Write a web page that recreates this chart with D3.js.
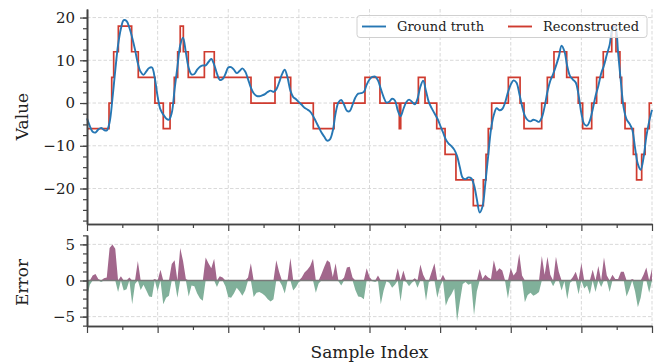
<!DOCTYPE html>
<html>
<head>
<meta charset="utf-8">
<script src="https://cdn.jsdelivr.net/npm/d3@7"></script>
<style>
  body { margin: 0; background: #fff; }
  svg text { font-family: "DejaVu Serif", serif; fill: #222; }
</style>
</head>
<body>
<div class="wrapper"></div>
<script>
// ground truth, read every 2 samples (0..400)
var truthValues = [
  -3.6, -5.4, -6.7, -6.9, -6.2, -5.8, -6.3, -6.4, -4.5, 1.0,
  7.6, 13.6, 17.4, 19.4, 19.2, 17.6, 15.3, 12.5, 9.3, 7.3,
  6.6, 7.4, 8.2, 8.3, 5.8, 1.5, -1.5, -2.7, -3.6, -3.9,
  -2.3, 3.2, 8.4, 13.5, 15.3, 11.8, 8.2, 6.7, 6.8, 7.8,
  8.5, 8.8, 8.8, 9.6, 10.3, 9.0, 6.9, 5.4, 5.6, 6.8,
  8.3, 8.4, 7.8, 7.0, 7.5, 8.1, 7.4, 5.6, 3.6, 2.3,
  1.7, 1.6, 1.8, 2.1, 2.6, 2.9, 2.6, 3.2, 4.8, 6.7,
  7.8, 5.9, 2.9, 1.4, 0.9, 0.2, -0.4, -1.1, -1.5, -2.0,
  -3.0, -4.3, -5.6, -6.9, -7.9, -8.8, -8.5, -6.5, -2.4, 0.1,
  0.7, -0.4, -1.8, -1.9, -0.4, 1.3, 2.2, 2.3, 2.6, 4.3,
  5.5, 6.1, 6.2, 5.3, 3.3, 1.4, 0.1, 0.3, 1.0, 0.6,
  -1.7, -3.1, -1.4, 0.2, 0.8, 0.3, -0.3, 1.0, 3.8, 5.2,
  2.8, 0.2, -1.2, -2.4, -3.6, -5.2, -6.8, -8.5, -9.5, -10.1,
  -10.9, -12.4, -15.1, -17.5, -17.8, -17.4, -17.6, -19.2, -22.5, -25.6,
  -24.2, -18.8, -12.4, -6.2, -2.8, -1.2, -1.7, -1.4, 0.1, 2.5,
  4.3, 5.3, 4.8, 2.3, -0.7, -3.0, -4.0, -4.3, -3.9, -4.1,
  -4.4, -3.4, -0.8, 2.7, 5.2, 6.8, 8.7, 10.8, 13.4, 12.1,
  8.6, 6.3, 5.5, 4.8, 1.9, -2.4, -4.9, -5.3, -4.1, -1.5,
  1.6, 4.0, 6.9, 8.8, 11.3, 13.6, 17.2, 17.8, 11.8, 4.8,
  -1.2, -3.8, -4.8, -6.2, -10.5, -14.3, -15.6, -12.8, -7.8, -4.3,
  -1.6
];
var truthIndex = d3.range(0, 401, 2);

// reconstructed signal: sample where each step starts, and its level
var reconStart = [0, 15.6, 17.5, 18.9, 22.2, 31.6, 36.3, 48.1, 54, 58.8,
  61.8, 64.2, 66, 68.2, 71.7, 83.1, 90.1, 116.1, 133.1, 144.2,
  160.2, 174.9, 196.8, 207.4, 221.1, 222.1, 234.6, 239.3, 247.6, 253.5,
  261.2, 273.5, 280.6, 282.5, 284.1, 286.5, 298.3, 306.6, 309.4, 321.9,
  325.9, 330.6, 339.6, 347.8, 350.9, 357.3, 360.8, 365.5, 371.5, 374.5,
  377.3, 378.5, 380.9, 386.8, 389.1, 392.7, 395.1, 398.1];
var reconLevel = [-6, 0, 6, 12, 18, 12, 6, 0, -6, 0,
  6, 12, 18, 12, 6, 12, 6, 0, 6, 0,
  -6, 0, 6, 0, -6, 0, 6, 0, -6, -12,
  -18, -24, -18, -12, -6, 0, 6, 0, -6, 0,
  6, 12, 6, 0, -6, 0, 6, 12, 18, 12,
  6, 0, -6, -12, -18, -12, -6, 0];

var valueTicks = [-20, -10, 0, 10, 20];
var errorTicks = [-5, 0, 5];
var sampleTicks = [0, 50, 100, 150, 200, 250, 300, 350, 400];

var width = 654,
  height = 362;

var svg = d3.select(".wrapper").append("svg")
  .attr("width", width)
  .attr("height", height);

var x = d3.scaleLinear().domain([0, 400]).range([87, 652]);
var yTop = d3.scaleLinear().domain([-28.3, 22]).range([224, 9]);
var yErr = d3.scaleLinear().domain([-6.3, 6.3]).range([326, 235]);

var truth = truthIndex.map(function(d, i) { return {i: d, v: truthValues[i]}; });
var recon = reconStart.map(function(d, i) { return {i: d, v: reconLevel[i]}; });
recon.push({i: 400, v: reconLevel[reconLevel.length - 1]});

function reconAt(s) {
  var k = 0;
  for (var j = 0; j < reconStart.length; ++j) {
    if (reconStart[j] <= s) k = j;
  }
  return reconLevel[k];
}
// error = reconstructed - ground truth
var errors = truth.map(function(d) { return {i: d.i, e: reconAt(d.i) - d.v}; });

function minorTicks(lo, hi, step) {
  var out = [];
  for (var t = lo; t <= hi + 1e-9; t += step) out.push(+t.toFixed(3));
  return out;
}

// grids
function grid(g, yScale, yTicks) {
  g.selectAll("line.gx")
    .data(sampleTicks.slice(1))
    .enter().append("line")
      .attr("x1", x).attr("x2", x)
      .attr("y1", yScale.range()[1]).attr("y2", yScale.range()[0])
      .attr("stroke", "#cfcfcf").attr("stroke-width", 0.8)
      .attr("stroke-dasharray", "3.5,2");
  g.selectAll("line.gy")
    .data(yTicks)
    .enter().append("line")
      .attr("x1", 87).attr("x2", 652)
      .attr("y1", yScale).attr("y2", yScale)
      .attr("stroke", "#cfcfcf").attr("stroke-width", 0.8)
      .attr("stroke-dasharray", "3.5,2");
}
grid(svg.append("g"), yTop, valueTicks);
grid(svg.append("g"), yErr, [-5, 5]);

// top panel lines
svg.append("path")
  .datum(recon)
  .attr("fill", "none")
  .attr("stroke", "#cf3b2f")
  .attr("stroke-width", 1.7)
  .attr("d", d3.line()
    .x(function(d) { return x(d.i); })
    .y(function(d) { return yTop(d.v); })
    .curve(d3.curveStepAfter));

svg.append("path")
  .datum(truth)
  .attr("fill", "none")
  .attr("stroke", "#2677b4")
  .attr("stroke-width", 1.9)
  .attr("d", d3.line()
    .x(function(d) { return x(d.i); })
    .y(function(d) { return yTop(d.v); })
    .curve(d3.curveCatmullRom));

// error panel
svg.append("path")
  .datum(errors)
  .attr("fill", "#a2678c")
  .attr("d", d3.area()
    .x(function(d) { return x(d.i); })
    .y0(yErr(0))
    .y1(function(d) { return yErr(Math.max(d.e, 0)); }));

svg.append("path")
  .datum(errors)
  .attr("fill", "#80b09a")
  .attr("d", d3.area()
    .x(function(d) { return x(d.i); })
    .y0(yErr(0))
    .y1(function(d) { return yErr(Math.min(d.e, 0)); }));

svg.append("line")
  .attr("x1", 87).attr("x2", 652)
  .attr("y1", yErr(0)).attr("y2", yErr(0))
  .attr("stroke", "#7a7a7a")
  .attr("stroke-width", 1.5);

// axes
function styleAxis(g) {
  g.selectAll(".domain").attr("stroke", "#444").attr("stroke-width", 1.6);
  g.selectAll(".tick line").attr("stroke", "#444").attr("stroke-width", 1.2);
  g.selectAll("text").attr("font-size", 15).attr("fill", "#222")
    .attr("font-family", "DejaVu Serif");
}

var fmt = d3.format("d");

svg.append("g")
  .attr("transform", "translate(87,0)")
  .call(d3.axisLeft(yTop).tickValues(minorTicks(-27.5, 20, 2.5)).tickSize(4).tickSizeOuter(0).tickFormat(""))
  .call(styleAxis);
svg.append("g")
  .attr("transform", "translate(87,0)")
  .call(d3.axisLeft(yTop).tickValues(valueTicks).tickSize(7).tickPadding(5).tickSizeOuter(0).tickFormat(fmt))
  .call(styleAxis);

svg.append("g")
  .attr("transform", "translate(87,0)")
  .call(d3.axisLeft(yErr).tickValues(minorTicks(-6.25, 6.25, 1.25)).tickSize(4).tickSizeOuter(0).tickFormat(""))
  .call(styleAxis);
svg.append("g")
  .attr("transform", "translate(87,0)")
  .call(d3.axisLeft(yErr).tickValues(errorTicks).tickSize(7).tickPadding(5).tickSizeOuter(0).tickFormat(fmt))
  .call(styleAxis);

[224, 326].forEach(function(yy) {
  svg.append("g")
    .attr("transform", "translate(0," + yy + ")")
    .call(d3.axisBottom(x).tickValues(minorTicks(25, 375, 50)).tickSize(4).tickSizeOuter(0).tickFormat(""))
    .call(styleAxis);
  svg.append("g")
    .attr("transform", "translate(0," + yy + ")")
    .call(d3.axisBottom(x).tickValues(sampleTicks).tickSize(7).tickSizeOuter(0).tickFormat(""))
    .call(styleAxis);
});

// axis labels
svg.append("text")
  .attr("transform", "translate(28,116.5) rotate(-90)")
  .attr("text-anchor", "middle")
  .attr("font-size", 17)
  .text("Value");
svg.append("text")
  .attr("transform", "translate(28,282.5) rotate(-90)")
  .attr("text-anchor", "middle")
  .attr("font-size", 17)
  .text("Error");
svg.append("text")
  .attr("x", 369.5)
  .attr("y", 358)
  .attr("text-anchor", "middle")
  .attr("font-size", 17)
  .text("Sample Index");

// legend
var legend = svg.append("g");
legend.append("rect")
  .attr("x", 357).attr("y", 15.5)
  .attr("width", 290).attr("height", 22)
  .attr("rx", 3)
  .attr("fill", "#fff").attr("fill-opacity", 0.8)
  .attr("stroke", "#d0d0d0");
var keys = [
  {label: "Ground truth", color: "#2677b4", x: 362},
  {label: "Reconstructed", color: "#cf3b2f", x: 508}
];
keys.forEach(function(k) {
  legend.append("line")
    .attr("x1", k.x).attr("x2", k.x + 24)
    .attr("y1", 26.5).attr("y2", 26.5)
    .attr("stroke", k.color).attr("stroke-width", 1.9);
  legend.append("text")
    .attr("x", k.x + 35)
    .attr("y", 31)
    .attr("font-size", 13)
    .text(k.label);
});
</script>
</body>
</html>
